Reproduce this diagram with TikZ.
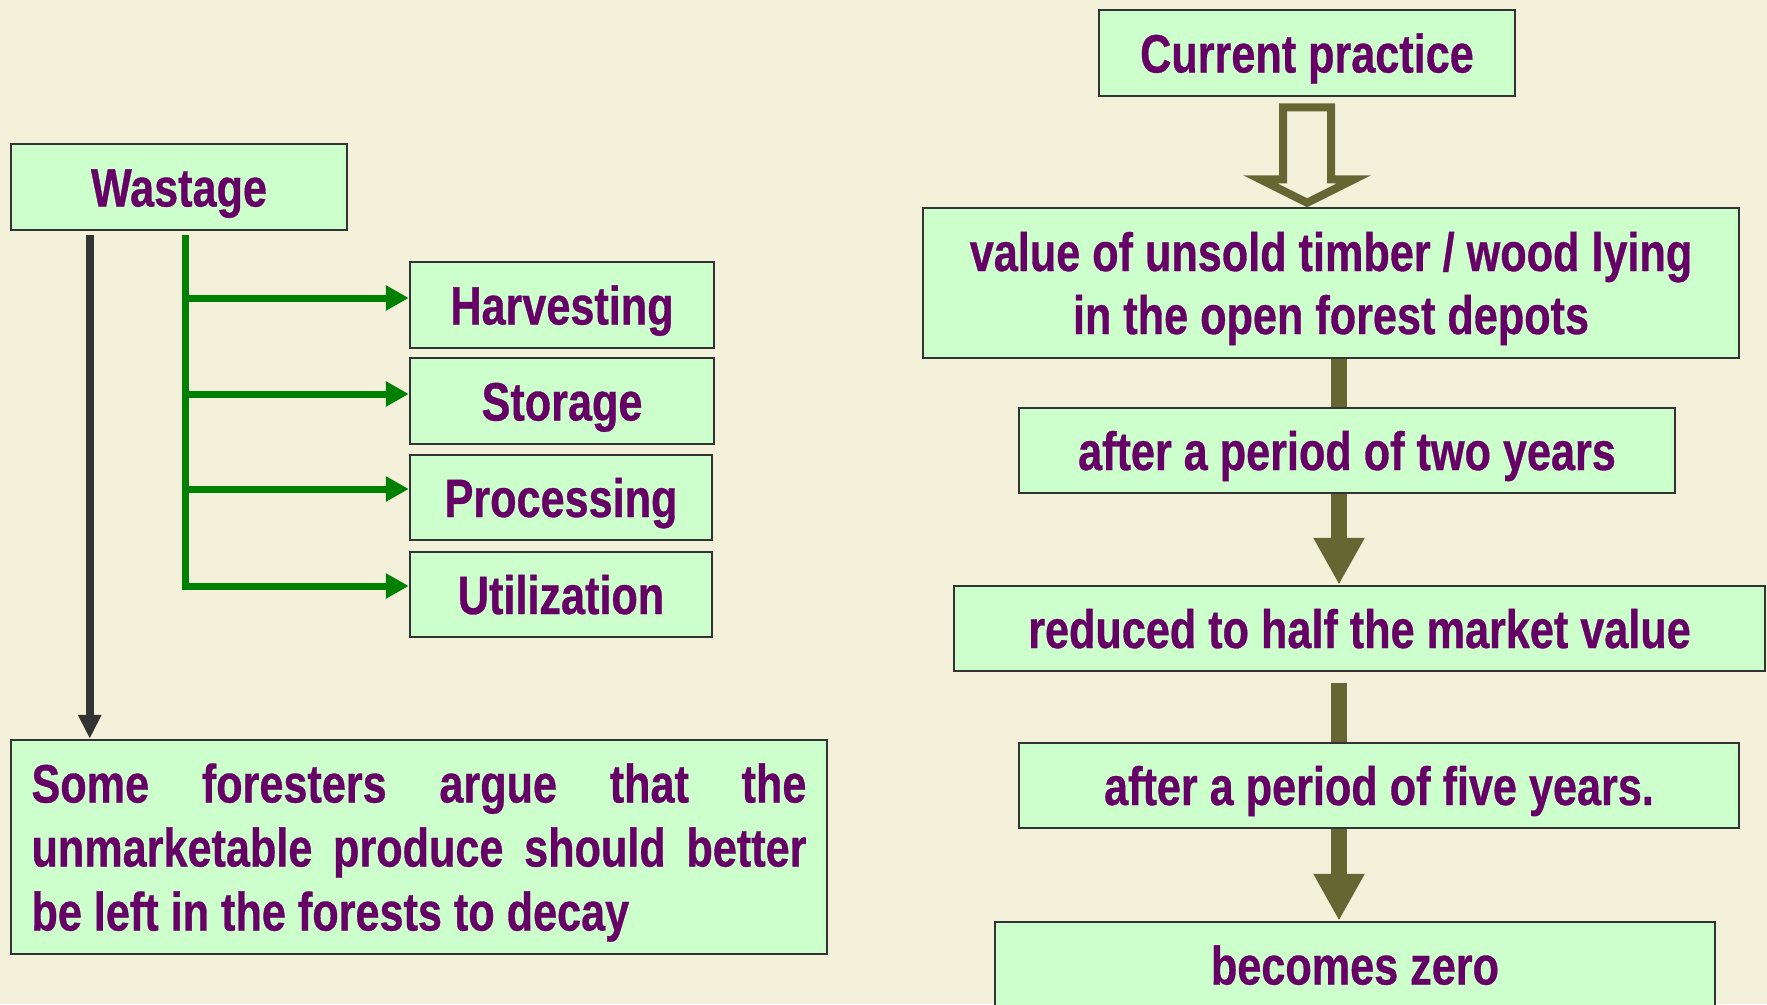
\documentclass[tikz,border=0pt]{standalone}
\usepackage{fontspec}
\newfontfamily\labelfont{Liberation Sans}[FakeStretch=0.8,BoldFeatures={FakeStretch=0.8,FakeBold=0.6}]
\usetikzlibrary{arrows.meta}
\definecolor{paper}{RGB}{243,241,218}
\definecolor{boxfill}{RGB}{204,255,204}
\definecolor{ink}{RGB}{102,0,102}
\definecolor{edge}{RGB}{51,51,51}
\definecolor{leafgreen}{RGB}{0,128,0}
\definecolor{olivebar}{RGB}{102,102,51}

\begin{document}
\begin{tikzpicture}[x=1pt,y=-1pt,
  card/.style={draw=edge, line width=2.5pt, fill=boxfill, inner sep=0pt,
    text=ink, font=\labelfont\bfseries\fontsize{54}{64}\selectfont,
    text height=39pt, text depth=0pt},
  branch/.style={draw=leafgreen, line width=7pt, line join=miter,
    -{Triangle[length=23pt,width=24pt]}},
  dropline/.style={draw=edge, line width=8pt,
    -{Triangle[length=24pt,width=22pt]}},
  stem/.style={draw=olivebar, line width=16pt},
  stemarrow/.style={stem, -{Triangle[length=47pt,width=48pt]}}]

\clip (0,0) rectangle (1767,1004);
\fill[paper] (0,0) rectangle (1767,1004);

% left column
\node[card, minimum width=336pt, minimum height=86pt] (wastage) at (179,187) {Wastage};
\node[card, minimum width=304pt, minimum height=86pt] (harvest) at (562,305) {Harvesting};
\node[card, minimum width=304pt, minimum height=86pt] (storage) at (562,401) {Storage};
\node[card, minimum width=302pt, minimum height=85pt] (process) at (561,497.5) {Processing};
\node[card, minimum width=302pt, minimum height=85pt] (utilize) at (561,594.5) {Utilization};
\node[card, minimum width=816pt, minimum height=214pt, text height=167pt] (note) at (419,847)
  {\parbox[b]{775pt}{\hyphenpenalty=10000 Some foresters argue that the\linebreak
   unmarketable produce should better\linebreak be left in the forests to decay}};

% right column
\node[card, minimum width=416pt, minimum height=86pt] (current) at (1307,53) {Current practice};
\node[card, minimum width=816pt, minimum height=150pt, text height=102pt] (value) at (1331,283)
  {\parbox[b]{816pt}{\centering\fontsize{54}{63}\selectfont value of unsold timber / wood lying\\ in the open forest depots}};
\node[card, minimum width=656pt, minimum height=85pt] (two) at (1347,450.5) {after a period of two years};
\node[card, minimum width=811pt, minimum height=85pt] (half) at (1359.5,628.5) {reduced to half the market value};
\node[card, minimum width=720pt, minimum height=85pt] (five) at (1379,785.5) {after a period of five years.};
\node[card, minimum width=720pt, minimum height=86pt] (zero) at (1355,965) {becomes zero};

% branching arrows out of the wastage box
\coordinate (trunk) at ([xshift=176pt,yshift=-4pt]wastage.south west);
\draw[branch] (trunk) |- ([yshift=7pt]harvest.west);
\draw[branch] (trunk) |- ([yshift=7pt]storage.west);
\draw[branch] (trunk) |- ([yshift=8.5pt]process.west);
\draw[branch] (trunk) |- ([yshift=8.5pt]utilize.west);

\coordinate (drop) at ([xshift=80pt,yshift=-4pt]wastage.south west);
\draw[dropline] (drop) -- (drop |- note.north);

% hollow block arrow below the current practice box
\begin{scope}[shift={(current.south)}]
  \fill[olivebar, even odd rule]
    (-28,6) -- (28,6) -- (28,78) -- (64,78) -- (0,110) -- (-64,78) -- (-28,78) -- cycle
    (-20,14) -- (20,14) -- (20,86) -- (30,86) -- (0,101) -- (-30,86) -- (-20,86) -- cycle;
\end{scope}

% chain of the value stages
\coordinate (spine) at (1339,0);
\coordinate (gapstart) at ([yshift=-11pt]half.south);
\draw[stem] (value.south -| spine) -- (two.north -| spine);
\draw[stemarrow] (two.south -| spine) -- (half.north -| spine);
\draw[stem] (gapstart -| spine) -- (five.north -| spine);
\draw[stemarrow] (five.south -| spine) -- (zero.north -| spine);
\end{tikzpicture}
\end{document}
